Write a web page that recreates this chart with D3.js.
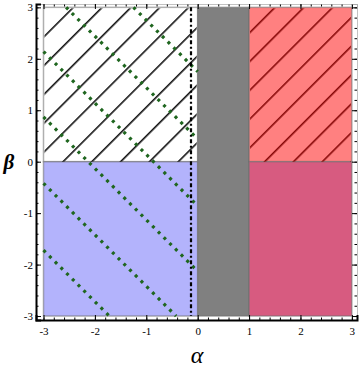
<!DOCTYPE html>
<html>
<head>
<meta charset="utf-8">
<script src="https://cdn.jsdelivr.net/npm/d3@7.9.0/dist/d3.min.js"></script>
<style>
  html, body { margin: 0; padding: 0; background: #fff; }
  svg { display: block; }
</style>
</head>
<body>
<div id="chart"></div>
<script>
// regions of the (alpha, beta) plane
const regions = [
  { id: "NW",    alpha: [-3, 0], beta: [0, 3] },
  { id: "SW",    alpha: [-3, 0], beta: [-3, 0] },
  { id: "strip", alpha: [0, 1],  beta: [-3, 3] },
  { id: "NE",    alpha: [1, 3],  beta: [0, 3] },
  { id: "SE",    alpha: [1, 3],  beta: [-3, 0] }
];
const hatchedRegions = ["NW", "NE"];

// dotted green level lines: alpha + beta = c (only for alpha <= 0)
const dottedLevels = [1.75, 0.44, -0.86, -2.13, -3.42, -4.72];

// dash-dot vertical line
const dashDotAlpha = -0.13;

const alphaTicks = [-3, -2, -1, 0, 1, 2, 3];
const betaTicks = [-3, -2, -1, 0, 1, 2, 3];

const regionFill = {
  NW: "#ffffff",
  SW: "#b3b3fc",
  strip: "#808080",
  NE: "#ff8080",
  SE: "#d75b80"
};
const hatchColor = { NW: "#000000", NE: "#800000" };

const width = 360, height = 370;
const serif = "Liberation Serif, DejaVu Serif, serif";

const svg = d3.select("#chart").append("svg")
  .attr("width", width)
  .attr("height", height);

const x = d3.scaleLinear().domain([-3.146, 3.1]).range([36, 357]);
const y = d3.scaleLinear().domain([-3.077, 3.065]).range([320, 4]);

// hatch patterns (45 degree lines, fixed pixel spacing)
const defs = svg.append("defs");
const step = 20.37;
Object.entries(hatchColor).forEach(([id, col]) => {
  const p = defs.append("pattern")
    .attr("id", `hatch-${id}`)
    .attr("patternUnits", "userSpaceOnUse")
    .attr("width", step)
    .attr("height", step)
    .attr("patternTransform", "rotate(45)");
  p.append("line")
    .attr("x1", 16.33).attr("x2", 16.33)
    .attr("y1", 0).attr("y2", step)
    .attr("stroke", col)
    .attr("stroke-width", 1.5);
});

const g = svg.append("g");

// regions
g.append("g")
  .selectAll("rect")
  .data(regions)
  .join("rect")
    .attr("x", d => x(d.alpha[0]))
    .attr("y", d => y(d.beta[1]))
    .attr("width", d => x(d.alpha[1]) - x(d.alpha[0]))
    .attr("height", d => y(d.beta[0]) - y(d.beta[1]))
    .attr("fill", d => regionFill[d.id])
    .attr("stroke", "rgba(110,110,110,0.55)")
    .attr("stroke-width", 1.5);

// hatching
g.append("g")
  .selectAll("rect")
  .data(regions.filter(d => hatchedRegions.includes(d.id)))
  .join("rect")
    .attr("x", d => x(d.alpha[0]) + 1)
    .attr("y", d => y(d.beta[1]) + 1)
    .attr("width", d => x(d.alpha[1]) - x(d.alpha[0]) - 2)
    .attr("height", d => y(d.beta[0]) - y(d.beta[1]) - 1)
    .attr("fill", d => `url(#hatch-${d.id})`);

// dotted level lines clipped to alpha in [-3,0], beta in [-3,3]
const segs = dottedLevels.map(c => {
  const a0 = Math.max(-3, c - 3), a1 = Math.min(0, c + 3);
  return { c, a0, b0: c - a0, a1, b1: c - a1 };
});
g.append("g")
  .selectAll("line")
  .data(segs)
  .join("line")
    .attr("x1", d => x(d.a0)).attr("y1", d => y(d.b0))
    .attr("x2", d => x(d.a1)).attr("y2", d => y(d.b1))
    .attr("stroke", "#1f661f")
    .attr("stroke-width", 3.2)
    .attr("stroke-dasharray", "3 5.1");

// dash-dot vertical
g.append("line")
  .attr("x1", x(dashDotAlpha)).attr("x2", x(dashDotAlpha))
  .attr("y1", y(3)).attr("y2", y(-3))
  .attr("stroke", "#000")
  .attr("stroke-width", 2.2)
  .attr("stroke-dasharray", "4 2.5 2 2.5");

// axes
const minor = d3.range(-3, 3.001, 0.2).map(v => +v.toFixed(1));

function minorTicks(axisFn, scale, tr, size) {
  g.append("g")
    .attr("transform", tr)
    .call(axisFn(scale).tickValues(minor).tickSize(size).tickFormat(""))
    .call(s => s.select(".domain").remove());
}

minorTicks(d3.axisBottom, x, `translate(0,320)`, -2.5);
minorTicks(d3.axisLeft, y, `translate(36,0)`, -2.5);
minorTicks(d3.axisTop, x, `translate(0,4)`, -2.5);
minorTicks(d3.axisRight, y, `translate(357,0)`, -2.5);

// top & right frame (ticks, light line)
g.append("g")
  .attr("transform", "translate(0,4)")
  .call(d3.axisTop(x).tickValues(alphaTicks).tickSize(-5).tickFormat(""))
  .call(s => s.select(".domain").attr("stroke", "#999").attr("stroke-width", 0.6));
g.append("g")
  .attr("transform", "translate(357,0)")
  .call(d3.axisRight(y).tickValues(betaTicks).tickSize(-5).tickFormat(""))
  .call(s => s.select(".domain").attr("stroke", "#999").attr("stroke-width", 0.6));

// bottom & left axes
const xAxis = g.append("g")
  .attr("transform", "translate(0,320)")
  .call(d3.axisBottom(x).tickValues(alphaTicks).tickSize(-5).tickPadding(7).tickFormat(d => String(d)))
  .attr("font-family", serif)
  .attr("font-size", 11);
xAxis.select(".domain").attr("stroke-width", 2);

const yAxis = g.append("g")
  .attr("transform", "translate(36,0)")
  .call(d3.axisLeft(y).tickValues(betaTicks).tickSize(-5).tickPadding(3).tickFormat(d => String(d)))
  .attr("font-family", serif)
  .attr("font-size", 11);
yAxis.select(".domain").attr("stroke-width", 2);

[xAxis, yAxis].forEach(a => a.selectAll(".tick line").attr("stroke-width", 1));

// axis titles
svg.append("text")
  .attr("x", 197)
  .attr("y", 363)
  .attr("text-anchor", "middle")
  .attr("font-family", serif)
  .attr("font-style", "italic")
  .attr("font-size", 24)
  .text("α");

svg.append("text")
  .attr("x", 9)
  .attr("y", 169)
  .attr("text-anchor", "middle")
  .attr("font-family", serif)
  .attr("font-style", "italic")
  .attr("font-weight", "bold")
  .attr("font-size", 21)
  .text("β");
</script>
</body>
</html>
